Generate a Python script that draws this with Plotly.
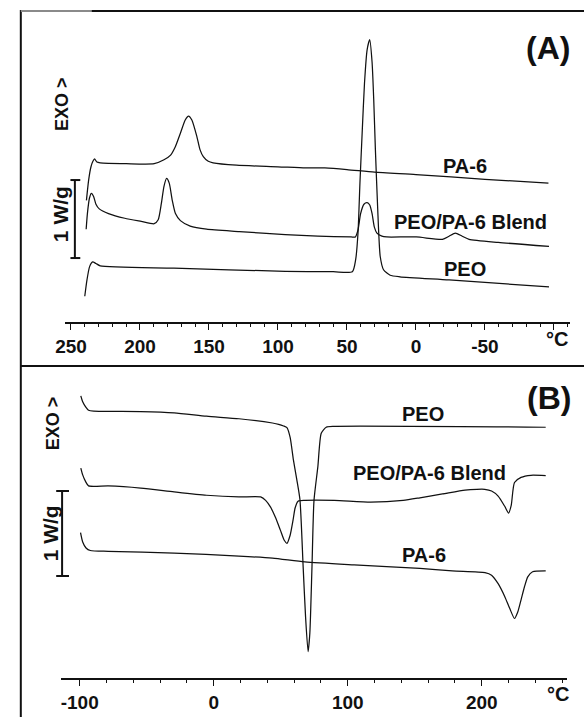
import plotly.graph_objects as go

# ---------------- Panel (A): cooling scans (T in °C, heat flow in W/g, curves offset) ----------------
A_PA6_T = [238.8, 237.2, 235.5, 234.1, 232.9, 231.2, 228.8, 210, 189.7, 182.6, 177.8, 174.3, 170.7, 167.2,
           164.8, 162.4, 158.8, 156.5, 154.1, 150.5, 147, 130, 100, 80, 66, 50, 30, 0, -50, -96]
A_PA6_Q = [1.56, 1.82, 1.99, 2.06, 2.09, 2.05, 2.04, 2.03, 2.03, 2.08, 2.14, 2.25, 2.42, 2.59,
           2.64, 2.59, 2.38, 2.21, 2.12, 2.06, 2.04, 2.01, 1.99, 1.975, 1.975, 1.955, 1.92, 1.89, 1.83, 1.78]

A_BLEND_T = [239.0, 238.1, 236.6, 235.2, 233.6, 231.9, 229.5, 222.8, 211.0, 199.1, 189.7, 186.8, 184.5,
             182.6, 180.7, 178.8, 176.6, 174.3, 170.7, 163.6, 151.7, 128.0, 94.7, 71.0, 47.0, 43.9, 42.0,
             40.1, 37.7, 35.4, 33.5, 31.8, 30.2, 28.3, 24.7, 21.2, -0.2, -19.2, -24.0, -28.5, -33.5, -38.5,
             -59.6, -96.4]
A_BLEND_Q = [1.19, 1.39, 1.59, 1.65, 1.61, 1.51, 1.45, 1.39, 1.33, 1.29, 1.26, 1.31, 1.52,
             1.74, 1.84, 1.78, 1.56, 1.39, 1.30, 1.23, 1.19, 1.16, 1.12, 1.10, 1.09, 1.09, 1.18,
             1.39, 1.51, 1.53, 1.50, 1.39, 1.22, 1.14, 1.10, 1.09, 1.09, 1.06, 1.10, 1.14, 1.10, 1.06,
             1.02, 0.97]

A_PEO_T = [240.0, 238.4, 236.5, 234.3, 231.9, 228.8, 175.4, 94.7, 60.0, 46.1, 43.7, 42.0, 40.6, 39.0,
           37.3, 35.4, 33.5, 31.8, 30.6, 29.4, 27.8, 25.9, 23.5, 18.7, 11.6, -24.0, -96.4]
A_PEO_Q = [0.33, 0.54, 0.71, 0.77, 0.75, 0.72, 0.69, 0.65, 0.645, 0.645, 0.80, 1.14, 1.78, 2.42,
           3.06, 3.49, 3.62, 3.33, 2.85, 2.21, 1.48, 0.84, 0.67, 0.60, 0.58, 0.54, 0.45]

# ---------------- Panel (B): heating scans ----------------
B_PEO_T = [-99.2, -97.8, -95.6, -93.4, -89.6, -54.5, -29.6, -5.4, 18.8, 43.8, 48.4, 52.1, 54.6, 57.0,
           59.4, 61.9, 64.3, 66.7, 68.5, 70.4, 71.7, 73.3, 74.8, 77.7, 80.2, 83.9, 90.0, 247.7]
B_PEO_Q = [3.32, 3.25, 3.19, 3.15, 3.14, 3.135, 3.12, 3.08, 3.05, 3.00, 2.985, 2.965, 2.945, 2.83,
           2.57, 2.34, 2.10, 1.31, 0.72, 0.31, 0.53, 1.31, 2.09, 2.49, 2.88, 2.95, 2.96, 2.95]

B_BLEND_T = [-99.2, -97.8, -95.6, -93.4, -78.7, -54.5, -29.6, -5.4, 18.8, 35.0, 38.7, 42.4, 46.0, 49.7,
             52.6, 54.6, 57.0, 59.2, 60.7, 62.9, 68.0, 90.0, 117.1, 141.3, 153.8, 170.7, 187.5, 196.3,
             202.2, 207.3, 212.2, 217.1, 220.0, 222.0, 224.4, 229.3, 236.7, 247.7]
B_BLEND_Q = [2.47, 2.39, 2.31, 2.26, 2.26, 2.235, 2.19, 2.15, 2.13, 2.13, 2.09, 2.01, 1.89, 1.74,
             1.62, 1.585, 1.68, 1.86, 2.00, 2.08, 2.09, 2.09, 2.07, 2.09, 2.12, 2.165, 2.21, 2.22,
             2.22, 2.20, 2.14, 2.02, 1.94, 2.035, 2.30, 2.36, 2.385, 2.38]

B_PA6_T = [-99.4, -97.8, -95.3, -92.1, -78.7, -29.6, 18.8, 43.8, 68.0, 104.7, 153.8, 178.0, 202.4,
           207.3, 212.2, 217.1, 220.8, 224.4, 226.9, 229.3, 231.8, 234.3, 237.9, 247.7]
B_PA6_Q = [1.71, 1.60, 1.53, 1.50, 1.49, 1.47, 1.435, 1.41, 1.365, 1.33, 1.29, 1.26, 1.24,
           1.21, 1.11, 0.96, 0.82, 0.70, 0.78, 0.92, 1.07, 1.19, 1.25, 1.26]

# tick values / labels
A_TICKS = [250, 200, 150, 100, 50, 0, -50, -100]
A_TICKTEXT = ["250", "200", "150", "100", "50", "0", "-50", ""]
B_TICKS = [-100, 0, 100, 200]
B_TICKTEXT = ["-100", "0", "100", "200"]

# curve labels (text, T, heat-flow position)
A_LABELS = [("PA-6", -35.6, 2.0), ("PEO/PA-6 Blend", -39.2, 1.28), ("PEO", -35.6, 0.68)]
B_LABELS = [("PEO", 156.0, 3.11), ("PEO/PA-6 Blend", 161.1, 2.41), ("PA-6", 156.7, 1.45)]

SCALE_BAR_WG = 1.0  # 1 W/g

# ---------------- figure ----------------
W, H = 584, 717
FONT = "Liberation Sans, Arial, Helvetica, sans-serif"
INK = "#111111"


def px(x):
    return x / W


def py(y):
    return (H - y) / H


fig = go.Figure()
line = dict(color=INK, width=1.25, shape="spline", smoothing=0.6)
for T, Q in [(A_PA6_T, A_PA6_Q), (A_BLEND_T, A_BLEND_Q), (A_PEO_T, A_PEO_Q)]:
    fig.add_trace(go.Scatter(x=T, y=Q, mode="lines", line=line, xaxis="x", yaxis="y",
                             showlegend=False, hoverinfo="skip"))
for T, Q in [(B_PEO_T, B_PEO_Q), (B_BLEND_T, B_BLEND_Q), (B_PA6_T, B_PA6_Q)]:
    fig.add_trace(go.Scatter(x=T, y=Q, mode="lines", line=line, xaxis="x2", yaxis="y2",
                             showlegend=False, hoverinfo="skip"))

tickfont = dict(family=FONT, size=19, color=INK, weight="bold")
common_x = dict(showline=True, linecolor=INK, linewidth=1.6, ticks="outside", ticklen=6,
                tickwidth=1.2, tickcolor=INK, showgrid=False, zeroline=False, tickfont=tickfont,
                tickmode="array", fixedrange=True)

fig.update_layout(
    width=W, height=H, margin=dict(l=0, r=0, t=0, b=0),
    paper_bgcolor="white", plot_bgcolor="white",
    xaxis=dict(domain=[px(56), px(570)], range=[254.3, -111.8], anchor="y",
               tickvals=A_TICKS, ticktext=A_TICKTEXT,
               minor=dict(tickmode="linear", tick0=0, dtick=10, ticks="outside", ticklen=3,
                          tickcolor=INK, tickwidth=1),
               **common_x),
    yaxis=dict(domain=[py(322), py(11)], range=[0, 311 / 78], visible=False, fixedrange=True),
    xaxis2=dict(domain=[px(52), px(567)], range=[-113.9, 263.8], anchor="y2",
                tickvals=B_TICKS, ticktext=B_TICKTEXT,
                minor=dict(tickmode="linear", tick0=0, dtick=20, ticks="outside", ticklen=3,
                           tickcolor=INK, tickwidth=1),
                **common_x),
    yaxis2=dict(domain=[py(678), py(366)], range=[0, 312 / 85], visible=False, fixedrange=True),
)

shapes = []
# panel frames
shapes.append(dict(type="line", xref="paper", yref="paper", x0=px(11), x1=px(11), y0=0, y1=py(10),
                   line=dict(color=INK, width=2)))
shapes.append(dict(type="line", xref="paper", yref="paper", x0=px(11), x1=px(83), y0=py(11), y1=py(11),
                   line=dict(color="#8a8a8a", width=2)))
shapes.append(dict(type="line", xref="paper", yref="paper", x0=px(83), x1=1, y0=py(11), y1=py(11),
                   line=dict(color=INK, width=2)))
shapes.append(dict(type="line", xref="paper", yref="paper", x0=px(11), x1=1, y0=py(366), y1=py(366),
                   line=dict(color=INK, width=2)))


def scale_bar(xc, half, yref, ybot):
    out = []
    out.append(dict(type="line", xref="paper", yref=yref, x0=px(xc), x1=px(xc), y0=ybot,
                    y1=ybot + SCALE_BAR_WG, line=dict(color=INK, width=2)))
    for yy in (ybot, ybot + SCALE_BAR_WG):
        out.append(dict(type="line", xref="paper", yref=yref, x0=px(xc - half[0]), x1=px(xc + half[1]),
                        y0=yy, y1=yy, line=dict(color=INK, width=2)))
    return out


shapes += scale_bar(66, (4.5, 5.5), "y", 0.82)
shapes += scale_bar(53, (6, 7), "y2", 1.2)
fig.update_layout(shapes=shapes)

ann = []
C = dict(showarrow=False, xanchor="center", yanchor="middle")
lab_font = dict(family=FONT, size=20, color=INK, weight="bold")
for text, T, Q in A_LABELS:
    ann.append(dict(text=text, x=T, y=Q, xref="x", yref="y", font=lab_font, **C))
for text, T, Q in B_LABELS:
    ann.append(dict(text=text, x=T, y=Q, xref="x2", yref="y2", font=lab_font, **C))

big = dict(family=FONT, size=32, color=INK, weight="bold")
ann.append(dict(text="(A)", x=px(547), y=py(48), xref="paper", yref="paper", font=big, **C))
ann.append(dict(text="(B)", x=px(548), y=py(398), xref="paper", yref="paper", font=big, **C))

side = dict(family=FONT, size=18, color=INK, weight="bold")
wg = dict(family=FONT, size=21, color=INK, weight="bold")
ann.append(dict(text="EXO >", x=px(53), y=py(104), xref="paper", yref="paper",
                textangle=-90, font=side, **C))
ann.append(dict(text="1 W/g", x=px(51), y=py(214), xref="paper", yref="paper",
                textangle=-90, font=wg, **C))
ann.append(dict(text="EXO >", x=px(44), y=py(423), xref="paper", yref="paper",
                textangle=-90, font=side, **C))
ann.append(dict(text="1 W/g", x=px(41), y=py(533), xref="paper", yref="paper",
                textangle=-90, font=wg, **C))

deg = dict(family=FONT, size=20, color=INK, weight="bold")
ann.append(dict(text="°C", x=px(557), y=py(339), xref="paper", yref="paper", font=deg, **C))
ann.append(dict(text="°C", x=px(558), y=py(694), xref="paper", yref="paper", font=deg, **C))

fig.update_layout(annotations=ann)

fig.write_html("out.html")
